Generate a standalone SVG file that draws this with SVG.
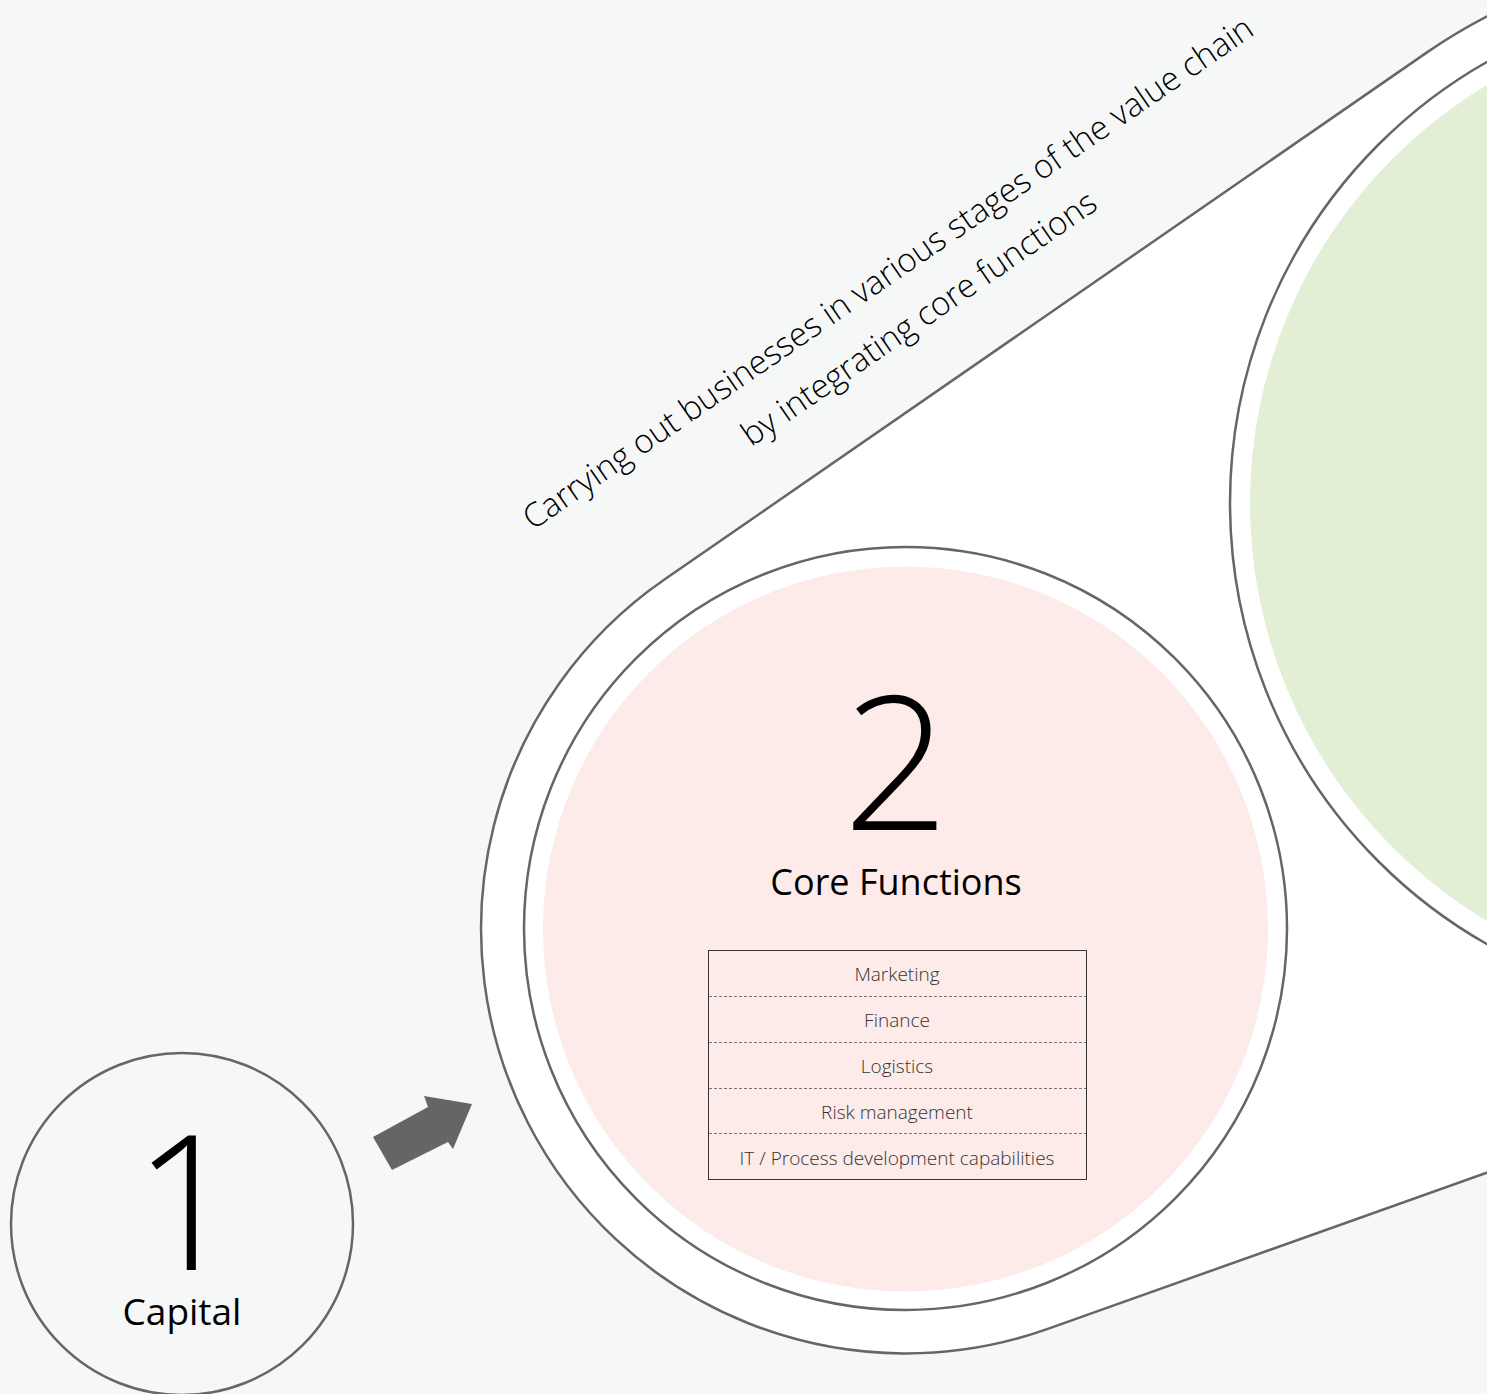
<svg xmlns="http://www.w3.org/2000/svg" width="1487" height="1394" viewBox="0 0 1487 1394">
  <style>
    .ring { fill: none; stroke: #666; stroke-width: 2.5; }
    .num { font-family: "Open Sans", "Liberation Sans", sans-serif; font-weight: 300; fill: #000; text-anchor: middle; }
    .title { font-family: "Open Sans", "Liberation Sans", sans-serif; font-weight: 400; fill: #000; text-anchor: middle; }
    .item { font-family: "Open Sans", "Liberation Sans", sans-serif; font-weight: 300; font-size: 19px; fill: #333; text-anchor: middle; }
    .sep { stroke: #777; stroke-width: 1; stroke-dasharray: 3 2; }
    .note { font-family: "Open Sans", "Liberation Sans", sans-serif; font-weight: 300; font-size: 33px; fill: #000; text-anchor: middle; }
  </style>

  <!-- page background -->
  <rect x="0" y="0" width="1487" height="1394" fill="#f6f8f7"/>

  <!-- envelope joining the core circle and the large right circle -->
  <g id="envelope">
    <path d="M 664.1 579.8 L 1425.9 53.1 A 547 547 0 1 1 1920.4 1018.3 L 1047.8 1328.9 A 424.5 424.5 0 0 1 664.1 579.8 Z" fill="#ffffff" stroke="#666" stroke-width="2.5"/>
  </g>

  <!-- large right circle (stage 3, cropped) -->
  <g id="node-3">
    <circle cx="1737" cy="503" r="507" class="ring"/>
    <circle cx="1737" cy="503" r="487" fill="#e2efd5"/>
  </g>

  <!-- caption along the envelope -->
  <g id="caption" transform="translate(886,288) rotate(-34.5)">
    <text class="note" x="10" y="0">Carrying out businesses in various stages of the value chain</text>
    <text class="note" x="10" y="55">by integrating core functions</text>
  </g>

  <!-- stage 2: core functions -->
  <g id="node-2">
    <circle cx="905.5" cy="928.5" r="381.5" class="ring"/>
    <circle cx="905.5" cy="929" r="362.5" fill="#fdebe9"/>
    <text class="num" x="896" y="830" font-size="186">2</text>
    <text class="title" x="896" y="895" font-size="36">Core Functions</text>
    <g id="function-list">
      <rect x="708.5" y="950.5" width="378" height="229" fill="none" stroke="#333" stroke-width="1"/>
      <line class="sep" x1="709" y1="996.5" x2="1086" y2="996.5"/>
      <line class="sep" x1="709" y1="1042.5" x2="1086" y2="1042.5"/>
      <line class="sep" x1="709" y1="1088.5" x2="1086" y2="1088.5"/>
      <line class="sep" x1="709" y1="1133.5" x2="1086" y2="1133.5"/>
      <text class="item" x="897" y="981">Marketing</text>
      <text class="item" x="897" y="1027">Finance</text>
      <text class="item" x="897" y="1073">Logistics</text>
      <text class="item" x="897" y="1119">Risk management</text>
      <text class="item" x="897" y="1165">IT / Process development capabilities</text>
    </g>
  </g>

  <!-- stage 1: capital -->
  <g id="node-1">
    <circle cx="182" cy="1224" r="171" class="ring"/>
    <text class="num" x="187" y="1270" font-size="188">1</text>
    <text class="title" x="182" y="1325" font-size="37">Capital</text>
  </g>

  <!-- connector from capital to core functions -->
  <g id="connectors">
    <polygon points="373,1137 428,1107 424,1096 472,1104 453,1149 448,1142 392,1170" fill="#666566"/>
  </g>
</svg>
